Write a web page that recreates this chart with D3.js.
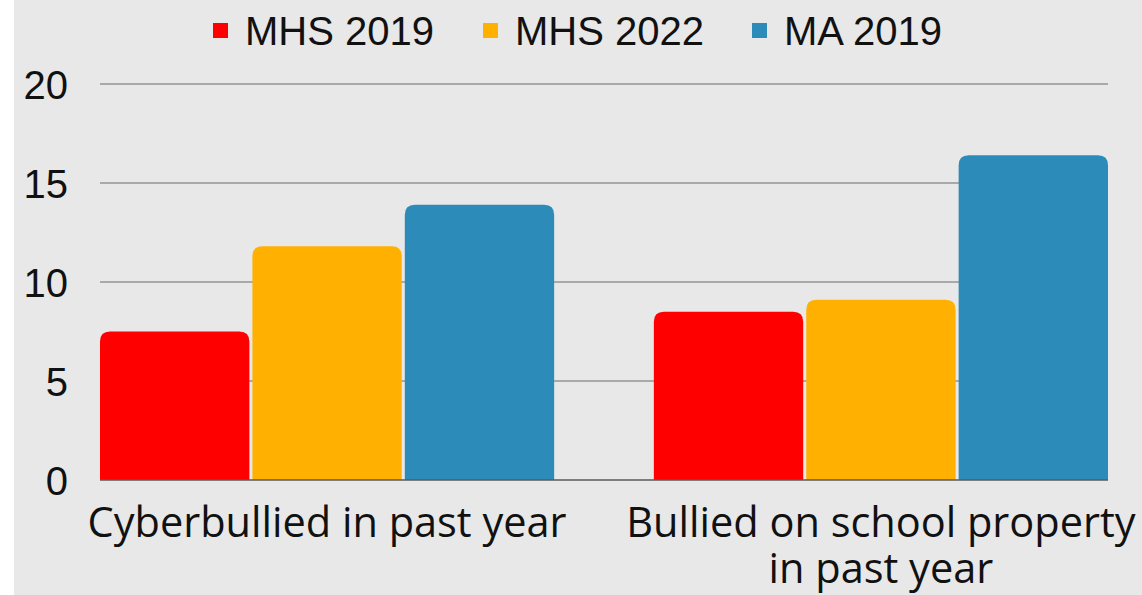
<!DOCTYPE html>
<html>
<head>
<meta charset="utf-8">
<script src="https://cdn.jsdelivr.net/npm/d3@7"></script>
<style>
    html, body { margin: 0; padding: 0; background: #fff; }
    svg { display: block; }
    .tick-label { font-family: "Liberation Sans", Arial, sans-serif; font-size: 40px; fill: #111; }
    .legend-label { font-family: "Liberation Sans", Arial, sans-serif; font-size: 40px; fill: #111; }
    .cat-label { font-family: "Open Sans", sans-serif; font-size: 41.5px; fill: #111; }
</style>
</head>
<body>
<div id="chart"></div>
<script>
const categories = [['Cyberbullied in past year'], ['Bullied on school property', 'in past year']];
const seriesNames = ['MHS 2019', 'MHS 2022', 'MA 2019'];
const mhs2019 = [7.5, 8.5];
const mhs2022 = [11.8, 9.1];
const ma2019 = [13.9, 16.4];
const yTicks = [0, 5, 10, 15, 20];
const colors = ['#ff0000', '#ffb000', '#2d8bba'];

const W = 1142;
const H = 595;
const margin = { top: 84, right: 34, bottom: 115, left: 100 };

const series = [mhs2019, mhs2022, ma2019];

const svg = d3.select('#chart')
    .append('svg')
    .attr('width', W)
    .attr('height', H);

// panel background
svg.append('rect')
    .attr('x', 14)
    .attr('y', 0)
    .attr('width', W - 14)
    .attr('height', H)
    .attr('fill', '#e8e8e8');

const x0 = d3.scaleBand()
    .domain(d3.range(categories.length))
    .range([margin.left, W - margin.right])
    .paddingInner(0.18)
    .paddingOuter(0);

const x1 = d3.scaleBand()
    .domain(d3.range(series.length))
    .range([0, x0.bandwidth()])
    .paddingInner(0.02);

const y = d3.scaleLinear()
    .domain([0, 20])
    .range([H - margin.bottom, margin.top]);

// gridlines
svg.append('g')
    .selectAll('line')
    .data(yTicks.filter((t) => t > 0))
    .enter()
    .append('line')
    .attr('x1', margin.left)
    .attr('x2', W - margin.right)
    .attr('y1', (d) => y(d))
    .attr('y2', (d) => y(d))
    .attr('stroke', '#a9a9a9')
    .attr('stroke-width', 2);

// y tick labels
svg.append('g')
    .selectAll('text')
    .data(yTicks)
    .enter()
    .append('text')
    .attr('class', 'tick-label')
    .attr('x', 68)
    .attr('y', (d) => y(d) + 14.5)
    .attr('text-anchor', 'end')
    .text((d) => d);

// top-rounded bar path
function barPath(x, yTop, w, h, r) {
    r = Math.min(r, w / 2, h);
    return `M${x},${yTop + h}V${yTop + r}Q${x},${yTop} ${x + r},${yTop}`
        + `H${x + w - r}Q${x + w},${yTop} ${x + w},${yTop + r}V${yTop + h}Z`;
}

const groups = svg.append('g')
    .selectAll('g')
    .data(categories)
    .enter()
    .append('g')
    .attr('transform', (d, i) => `translate(${x0(i)},0)`);

groups.selectAll('path')
    .data((d, i) => series.map((s, k) => ({ k, v: s[i] })))
    .enter()
    .append('path')
    .attr('d', (d) => barPath(x1(d.k), y(d.v), x1.bandwidth(), y(0) - y(d.v), 10))
    .attr('fill', (d) => colors[d.k]);

// baseline
svg.append('line')
    .attr('x1', margin.left)
    .attr('x2', W - margin.right)
    .attr('y1', y(0))
    .attr('y2', y(0))
    .attr('stroke', '#5a5a5a')
    .attr('stroke-width', 1.5);

// category labels
groups.append('text')
    .attr('class', 'cat-label')
    .attr('text-anchor', 'middle')
    .attr('x', x0.bandwidth() / 2)
    .attr('y', 537)
    .selectAll('tspan')
    .data((d) => d)
    .enter()
    .append('tspan')
    .attr('x', x0.bandwidth() / 2)
    .attr('dy', (d, i) => (i === 0 ? 0 : 46))
    .text((d) => d);

// legend
const legendX = [213, 483, 752];
const legend = svg.append('g')
    .selectAll('g')
    .data(seriesNames)
    .enter()
    .append('g')
    .attr('transform', (d, i) => `translate(${legendX[i]},0)`);

legend.append('rect')
    .attr('x', 0)
    .attr('y', 23)
    .attr('width', 15)
    .attr('height', 15)
    .attr('fill', (d, i) => colors[i]);

legend.append('text')
    .attr('class', 'legend-label')
    .attr('x', 32)
    .attr('y', 45)
    .text((d) => d);
</script>
</body>
</html>
